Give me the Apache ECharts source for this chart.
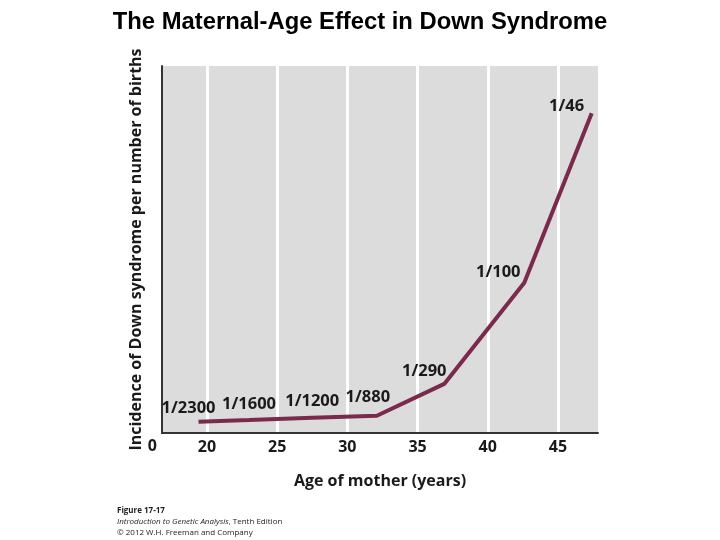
<!DOCTYPE html>
<html>
<head>
<meta charset="utf-8">
<script src="https://cdn.jsdelivr.net/npm/echarts@6/dist/echarts.min.js"></script>
<style>html,body{margin:0;padding:0;background:#fff;}#c{width:720px;height:540px;}</style>
</head>
<body>
<div id="c"></div>
<script>
// Data (incidence, per 1000 births)
const ages = [19.4, 23.0, 27.5, 32.1, 36.9, 42.6, 47.4];
const incidence = [0.77, 0.88, 1.03, 1.17, 3.33, 10.2, 21.7];
const incidenceLabels = ['1/2300', '1/1600', '1/1200', '1/880', '1/290', '1/100', '1/46'];
const xTicks = [20, 25, 30, 35, 40, 45];

// label placement (layout only)
const labelOffsets = [[-10,-13],[0,-16],[0,-17],[-9,-18],[-20,-13],[-26,-10],[-25,-7]];

const chart = echarts.init(document.getElementById('c'), null, {renderer: 'canvas'});
const labelFont = {fontFamily: 'Open Sans', fontWeight: 'bold', fontSize: 16.5, color: '#1a1a1a'};
const tickFont = {fontFamily: 'Open Sans', fontWeight: 'bold', fontSize: 16, color: '#1a1a1a'};

chart.setOption({
  animation: false,
  backgroundColor: '#ffffff',
  title: {
    text: 'The Maternal-Age Effect in Down Syndrome',
    left: 'center', top: 5,
    textStyle: {fontFamily: 'Liberation Sans', fontWeight: 'bold', fontSize: 23.8, color: '#000'}
  },
  grid: {left: 162, right: 122, top: 66, bottom: 107, show: true, backgroundColor: '#dcdcdc', borderWidth: 0},
  xAxis: {
    type: 'value', min: 16.8, max: 47.85,
    name: 'Age of mother (years)', nameLocation: 'middle', nameGap: 40, nameMoveOverlap: false,
    nameTextStyle: {fontFamily: 'Open Sans', fontWeight: 'bold', fontSize: 16, color: '#1a1a1a'},
    axisLine: {show: true, lineStyle: {color: '#333', width: 2}},
    axisTick: {show: false, customValues: xTicks},
    axisLabel: {customValues: xTicks, margin: 6, ...tickFont},
    splitLine: {show: true, lineStyle: {color: '#ffffff', width: 3}}
  },
  yAxis: {
    type: 'value', min: 0, max: 24.9,
    name: 'Incidence of Down syndrome per number of births', nameLocation: 'middle', nameGap: 18, nameRotate: 90, nameMoveOverlap: false,
    nameTextStyle: {fontFamily: 'Open Sans', fontWeight: 'bold', fontSize: 16, color: '#1a1a1a'},
    axisLine: {show: true, lineStyle: {color: '#333', width: 2}},
    axisTick: {show: false, customValues: [0]},
    axisLabel: {customValues: [0], margin: 5, verticalAlign: 'top', padding: [5,0,0,0], ...tickFont},
    splitLine: {show: false}
  },
  series: [{
    type: 'line',
    data: ages.map((a, i) => ({
      value: [a, incidence[i]],
      label: {offset: labelOffsets[i]}
    })),
    symbol: 'circle',
    symbolSize: 0,
    showSymbol: true,
    itemStyle: {color: '#7a2a4c'},
    lineStyle: {color: '#7a2a4c', width: 4},
    label: {
      show: true, position: 'inside', align: 'center', verticalAlign: 'middle',
      formatter: p => incidenceLabels[p.dataIndex],
      ...labelFont
    }
  }],
  graphic: [{
    type: 'text', left: 117, top: 507,
    style: {
      text: '{b|Figure 17-17}\n{i|Introduction to Genetic Analysis}{n|, Tenth Edition}\n{n|© 2012 W.H. Freeman and Company}',
      rich: {
        b: {fontFamily: 'Open Sans', fontWeight: 'bold', fontSize: 8, lineHeight: 11, fill: '#222'},
        i: {fontFamily: 'Open Sans', fontStyle: 'italic', fontSize: 8, lineHeight: 11, fill: '#222'},
        n: {fontFamily: 'Open Sans', fontSize: 8, lineHeight: 11, fill: '#222'}
      }
    }
  }]
});
</script>
</body>
</html>
